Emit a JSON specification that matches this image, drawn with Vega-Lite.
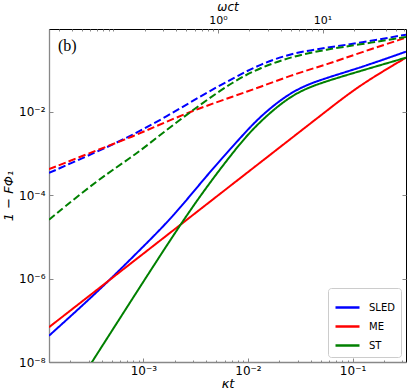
{
  "$schema": "https://vega.github.io/schema/vega-lite/v6.json",
  "width": 357,
  "height": 333,
  "autosize": {"type": "none"},
  "padding": {"left": 49, "top": 29, "right": 1, "bottom": 28},
  "background": "white",
  "config": {
    "font": "DejaVu Sans",
    "view": {"stroke": "black", "strokeWidth": 1},
    "axis": {"grid": false, "labelColor": "black", "titleColor": "black", "labelFont": "DejaVu Sans", "titleFont": "DejaVu Sans", "labelFontSize": 12, "titleFontSize": 13, "titleFontWeight": "normal", "titleFontStyle": "italic", "tickColor": "#888888", "labelFlush": false, "labelOverlap": false}
  },
  "datasets": {
    "curves": [
      {"kt": 1.252e-4, "F": 4.27e-8, "model": "SLED", "style": "solid"},
      {"kt": 2.480e-4, "F": 2.01e-7, "model": "SLED", "style": "solid"},
      {"kt": 4.800e-4, "F": 9.44e-7, "model": "SLED", "style": "solid"},
      {"kt": 9.298e-4, "F": 4.95e-6, "model": "SLED", "style": "solid"},
      {"kt": 1.937e-3, "F": 3.12e-5, "model": "SLED", "style": "solid"},
      {"kt": 3.895e-3, "F": 2.72e-4, "model": "SLED", "style": "solid"},
      {"kt": 8.42e-3, "F": 2.38e-3, "model": "SLED", "style": "solid"},
      {"kt": 1.308e-2, "F": 7.93e-3, "model": "SLED", "style": "solid"},
      {"kt": 2.725e-2, "F": 3.48e-2, "model": "SLED", "style": "solid"},
      {"kt": 5.689e-2, "F": 6.65e-2, "model": "SLED", "style": "solid"},
      {"kt": 0.1185, "F": 0.1156, "model": "SLED", "style": "solid"},
      {"kt": 0.3243, "F": 0.280, "model": "SLED", "style": "solid"},
      {"kt": 1.252e-4, "F": 6.84e-8, "model": "ME", "style": "solid"},
      {"kt": 4.465e-4, "F": 8.22e-7, "model": "ME", "style": "solid"},
      {"kt": 1.937e-3, "F": 1.456e-5, "model": "ME", "style": "solid"},
      {"kt": 8.42e-3, "F": 2.58e-4, "model": "ME", "style": "solid"},
      {"kt": 2.533e-2, "F": 2.22e-3, "model": "ME", "style": "solid"},
      {"kt": 5.689e-2, "F": 1.079e-2, "model": "ME", "style": "solid"},
      {"kt": 0.1185, "F": 4.52e-2, "model": "ME", "style": "solid"},
      {"kt": 0.3243, "F": 0.201, "model": "ME", "style": "solid"},
      {"kt": 2.767e-4, "F": 5.5e-9, "model": "ST", "style": "solid"},
      {"kt": 3.208e-4, "F": 9.78e-9, "model": "ST", "style": "solid"},
      {"kt": 9.298e-4, "F": 6.41e-7, "model": "ST", "style": "solid"},
      {"kt": 2.245e-3, "F": 1.97e-5, "model": "ST", "style": "solid"},
      {"kt": 4.161e-3, "F": 1.80e-4, "model": "ST", "style": "solid"},
      {"kt": 8.42e-3, "F": 1.80e-3, "model": "ST", "style": "solid"},
      {"kt": 1.308e-2, "F": 6.01e-3, "model": "ST", "style": "solid"},
      {"kt": 2.725e-2, "F": 2.90e-2, "model": "ST", "style": "solid"},
      {"kt": 5.689e-2, "F": 5.55e-2, "model": "ST", "style": "solid"},
      {"kt": 0.1185, "F": 9.62e-2, "model": "ST", "style": "solid"},
      {"kt": 0.3243, "F": 0.201, "model": "ST", "style": "solid"},
      {"kt": 1.252e-4, "F": 3.44e-4, "model": "SLED", "style": "dashed"},
      {"kt": 3.851e-4, "F": 1.197e-3, "model": "SLED", "style": "dashed"},
      {"kt": 8.02e-4, "F": 2.85e-3, "model": "SLED", "style": "dashed"},
      {"kt": 1.674e-3, "F": 7.83e-3, "model": "SLED", "style": "dashed"},
      {"kt": 3.488e-3, "F": 2.37e-2, "model": "SLED", "style": "dashed"},
      {"kt": 7.263e-3, "F": 6.53e-2, "model": "SLED", "style": "dashed"},
      {"kt": 1.308e-2, "F": 0.1403, "model": "SLED", "style": "dashed"},
      {"kt": 2.725e-2, "F": 0.265, "model": "SLED", "style": "dashed"},
      {"kt": 5.689e-2, "F": 0.349, "model": "SLED", "style": "dashed"},
      {"kt": 0.1185, "F": 0.460, "model": "SLED", "style": "dashed"},
      {"kt": 0.3243, "F": 0.716, "model": "SLED", "style": "dashed"},
      {"kt": 1.252e-4, "F": 4.24e-4, "model": "ME", "style": "dashed"},
      {"kt": 3.851e-4, "F": 1.294e-3, "model": "ME", "style": "dashed"},
      {"kt": 8.02e-4, "F": 2.59e-3, "model": "ME", "style": "dashed"},
      {"kt": 1.674e-3, "F": 5.94e-3, "model": "ME", "style": "dashed"},
      {"kt": 3.488e-3, "F": 1.247e-2, "model": "ME", "style": "dashed"},
      {"kt": 7.263e-3, "F": 2.37e-2, "model": "ME", "style": "dashed"},
      {"kt": 1.308e-2, "F": 3.98e-2, "model": "ME", "style": "dashed"},
      {"kt": 2.725e-2, "F": 7.98e-2, "model": "ME", "style": "dashed"},
      {"kt": 5.689e-2, "F": 0.1387, "model": "ME", "style": "dashed"},
      {"kt": 0.1185, "F": 0.265, "model": "ME", "style": "dashed"},
      {"kt": 0.3243, "F": 0.607, "model": "ME", "style": "dashed"},
      {"kt": 1.252e-4, "F": 2.60e-5, "model": "ST", "style": "dashed"},
      {"kt": 3.851e-4, "F": 2.61e-4, "model": "ST", "style": "dashed"},
      {"kt": 8.02e-4, "F": 8.59e-4, "model": "ST", "style": "dashed"},
      {"kt": 1.674e-3, "F": 3.76e-3, "model": "ST", "style": "dashed"},
      {"kt": 3.488e-3, "F": 1.496e-2, "model": "ST", "style": "dashed"},
      {"kt": 7.263e-3, "F": 5.42e-2, "model": "ST", "style": "dashed"},
      {"kt": 1.308e-2, "F": 0.1156, "model": "ST", "style": "dashed"},
      {"kt": 2.725e-2, "F": 0.220, "model": "ST", "style": "dashed"},
      {"kt": 5.689e-2, "F": 0.318, "model": "ST", "style": "dashed"},
      {"kt": 0.1185, "F": 0.419, "model": "ST", "style": "dashed"},
      {"kt": 0.3243, "F": 0.630, "model": "ST", "style": "dashed"}
    ],
    "frame": [
      {"kt": 1.252e-4, "F": 1e-8, "wt": 0.02427},
      {"kt": 0.3243, "F": 0.98, "wt": 62.8}
    ]
  },
  "layer": [
    {
      "data": {"name": "curves"},
      "mark": {"type": "line", "strokeWidth": 2, "clip": true, "interpolate": "basis"},
      "encoding": {
        "x": {"field": "kt", "type": "quantitative",
              "scale": {"type": "log", "domain": [1.252e-4, 0.3243], "nice": false},
              "axis": {"orient": "bottom", "values": [0.001, 0.01, 0.1], "title": "κt", "tickSize": -4, "labelPadding": 7, "domainColor": "#888888", "domainWidth": 1.3, "titlePadding": 1,
                       "labelExpr": "'10' + ['⁻⁸','⁻⁷','⁻⁶','⁻⁵','⁻⁴','⁻³','⁻²','⁻¹','⁰','¹','²'][round(log(datum.value)/LN10)+8]"}},
        "y": {"field": "F", "type": "quantitative",
              "scale": {"type": "log", "domain": [1e-8, 0.98], "nice": false},
              "axis": {"orient": "left", "values": [1e-8, 1e-6, 1e-4, 1e-2], "title": "1 − FΦ₁", "tickSize": -4, "labelPadding": 8, "domainColor": "#888888", "domainWidth": 1.3, "titlePadding": 3,
                       "labelExpr": "'10' + ['⁻⁸','⁻⁷','⁻⁶','⁻⁵','⁻⁴','⁻³','⁻²','⁻¹','⁰','¹','²'][round(log(datum.value)/LN10)+8]"}},
        "color": {"field": "model", "type": "nominal",
                  "scale": {"domain": ["SLED", "ME", "ST"], "range": ["#0000ff", "#ff0000", "#008000"]},
                  "legend": {"title": null, "orient": "bottom-right", "offset": 5, "symbolType": "stroke", "symbolSize": 576, "symbolStrokeWidth": 2.5, "labelFontSize": 10, "labelFont": "DejaVu Sans", "labelColor": "black", "strokeColor": "#cccccc", "fillColor": "white", "padding": 6, "cornerRadius": 3, "rowPadding": -14, "labelOffset": 8}},
        "strokeDash": {"field": "style", "type": "nominal",
                       "scale": {"domain": ["solid", "dashed"], "range": [[1, 0], [7.4, 3.2]]},
                       "legend": null}
      }
    },
    {
      "data": {"values": [{"tag": "(b)"}]},
      "mark": {"type": "text", "font": "Liberation Serif", "fontSize": 16, "align": "center", "baseline": "middle", "color": "black"},
      "encoding": {
        "text": {"field": "tag"},
        "x": {"datum": 1.875e-4, "type": "quantitative", "scale": {"type": "log", "domain": [1.252e-4, 0.3243], "nice": false}, "axis": null},
        "y": {"datum": 0.375, "type": "quantitative", "scale": {"type": "log", "domain": [1e-8, 0.98], "nice": false}, "axis": null}
      }
    },
    {
      "data": {"name": "frame"},
      "mark": {"type": "point", "opacity": 0},
      "encoding": {
        "x": {"field": "kt", "type": "quantitative",
              "scale": {"type": "log", "domain": [1.252e-4, 0.3243], "nice": false},
              "axis": {"orient": "bottom", "values": [2e-4, 3e-4, 4e-4, 5e-4, 6e-4, 7e-4, 8e-4, 9e-4, 2e-3, 3e-3, 4e-3, 5e-3, 6e-3, 7e-3, 8e-3, 9e-3, 2e-2, 3e-2, 4e-2, 5e-2, 6e-2, 7e-2, 8e-2, 9e-2, 0.2, 0.3], "labels": false, "domain": false, "title": null, "tickSize": -2}},
        "y": {"field": "F", "type": "quantitative",
              "scale": {"type": "log", "domain": [1e-8, 0.98], "nice": false},
              "axis": {"orient": "right", "values": [1e-8, 1e-6, 1e-4, 1e-2], "labels": false, "domain": false, "title": null, "tickSize": -4}}
      }
    },
    {
      "data": {"name": "frame"},
      "mark": {"type": "point", "opacity": 0},
      "encoding": {
        "x": {"field": "wt", "type": "quantitative",
              "scale": {"type": "log", "domain": [0.02427, 62.8], "nice": false},
              "axis": {"orient": "top", "values": [1, 10], "title": "ωct", "tickSize": -4, "labelPadding": 8, "labelFontSize": 11, "domain": false, "titleY": -19, "titleBaseline": "alphabetic", "titleFontSize": 12,
                       "labelExpr": "'10' + ['⁻⁸','⁻⁷','⁻⁶','⁻⁵','⁻⁴','⁻³','⁻²','⁻¹','⁰','¹','²'][round(log(datum.value)/LN10)+8]"}}
      }
    },
    {
      "data": {"name": "frame"},
      "mark": {"type": "point", "opacity": 0},
      "encoding": {
        "x": {"field": "wt", "type": "quantitative",
              "scale": {"type": "log", "domain": [0.02427, 62.8], "nice": false},
              "axis": {"orient": "top", "values": [0.03, 0.04, 0.05, 0.06, 0.07, 0.08, 0.09, 0.1, 0.2, 0.3, 0.4, 0.5, 0.6, 0.7, 0.8, 0.9, 2, 3, 4, 5, 6, 7, 8, 9, 20, 30, 40, 50, 60], "labels": false, "domain": false, "title": null, "tickSize": -2}}
      }
    }
  ],
  "resolve": {"scale": {"x": "independent", "y": "independent", "color": "independent"}}
}
